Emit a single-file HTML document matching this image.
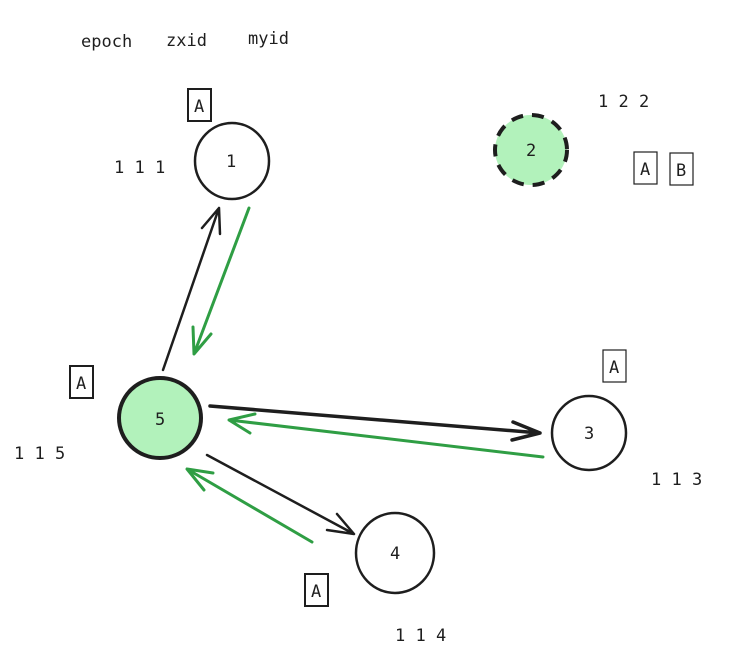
<!DOCTYPE html>
<html><head><meta charset="utf-8"><style>
html,body{margin:0;padding:0;background:#fff;}
svg{display:block;}
text{font-family:"DejaVu Sans Mono","Liberation Mono",monospace;font-size:17px;fill:#1e1e1e;}
</style></head><body>
<svg width="742" height="663" viewBox="0 0 742 663" xmlns="http://www.w3.org/2000/svg">
<rect width="742" height="663" fill="#fff"/>
<text x="81" y="47">epoch</text>
<text x="166" y="46">zxid</text>
<text x="248" y="44">myid</text>
<text x="114" y="173" xml:space="preserve">1 1 1</text>
<text x="598" y="107" xml:space="preserve">1 2 2</text>
<text x="14" y="459" xml:space="preserve">1 1 5</text>
<text x="651" y="485" xml:space="preserve">1 1 3</text>
<text x="395" y="641" xml:space="preserve">1 1 4</text>

<g fill="none" stroke="#1e1e1e">
<rect x="188" y="89" width="23" height="32" stroke-width="2"/>
<rect x="634" y="152" width="23" height="32" stroke-width="1.2"/>
<rect x="670" y="153" width="23" height="32" stroke-width="1.2"/>
<rect x="70" y="366" width="23" height="32" stroke-width="2"/>
<rect x="603" y="350" width="23" height="32" stroke-width="1.2"/>
<rect x="305" y="574" width="23" height="32" stroke-width="2"/>
</g>
<text x="194" y="112">A</text>
<text x="640" y="175">A</text>
<text x="676" y="176">B</text>
<text x="76" y="389">A</text>
<text x="609" y="373">A</text>
<text x="311" y="597">A</text>

<ellipse cx="232" cy="161" rx="37" ry="38" fill="none" stroke="#1e1e1e" stroke-width="2.5"/>
<ellipse cx="531" cy="150" rx="36" ry="35" fill="#b2f2bb" stroke="#1e1e1e" stroke-width="4" stroke-dasharray="12 9"/>
<ellipse cx="160" cy="418" rx="41" ry="40" fill="#b2f2bb" stroke="#1e1e1e" stroke-width="4"/>
<ellipse cx="589" cy="433" rx="37" ry="37" fill="none" stroke="#1e1e1e" stroke-width="2.5"/>
<ellipse cx="395" cy="553" rx="39" ry="40" fill="none" stroke="#1e1e1e" stroke-width="2.5"/>
<text x="226" y="167">1</text>
<text x="526" y="156">2</text>
<text x="155" y="425">5</text>
<text x="584" y="439">3</text>
<text x="390" y="559">4</text>

<g fill="none" stroke-linecap="round" stroke-linejoin="round">
<g stroke="#1e1e1e" stroke-width="2.5">
<path d="M163 370 L219 208 M202 228 L219 208 L220 234"/>
<path d="M207 455 L354 534 M337 514 L354 534 L327 530"/>
</g>
<path d="M210 406 L540 433 M513 422 L540 433 L512 440" stroke="#1e1e1e" stroke-width="3.5"/>
<g stroke="#2f9e44" stroke-width="3">
<path d="M249 208 L194 354 M193 327 L194 354 L211 334"/>
<path d="M543 457 L229 420 M255 414 L229 420 L250 433"/>
<path d="M312 542 L187 469 M213 473 L187 469 L204 490"/>
</g>
</g>
</svg>
</body></html>
